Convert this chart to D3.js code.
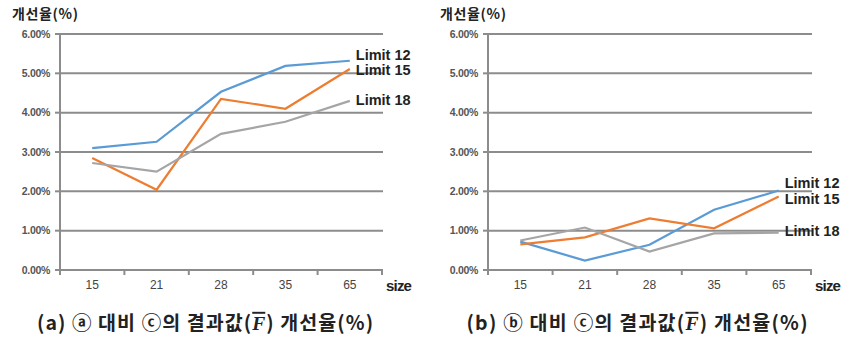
<!DOCTYPE html>
<html><head><meta charset="utf-8">
<script src="https://cdn.jsdelivr.net/npm/d3@7"></script>
<style>body{margin:0;background:#fff}svg{display:block}</style>
</head><body>
<svg id="c" width="843" height="338"></svg>
<script>
const categories = ["15","21","28","35","65"];
const yTicks = [0,1,2,3,4,5,6];
const seriesNames = ["Limit 12","Limit 15","Limit 18"];
const colors = ["#5B9BD5","#ED7D31","#A5A5A5"];
// panel (a)
const aLimit12 = [3.10,3.26,4.53,5.19,5.32];
const aLimit15 = [2.85,2.04,4.35,4.10,5.11];
const aLimit18 = [2.72,2.50,3.46,3.77,4.30];
// panel (b)
const bLimit12 = [0.72,0.24,0.64,1.53,2.02];
const bLimit15 = [0.65,0.83,1.31,1.06,1.87];
const bLimit18 = [0.75,1.08,0.47,0.93,0.95];
const captionA = ["(a) ⓐ 대비 ⓒ의 결과값(", "F", ") 개선율(%)"];
const captionB = ["(b) ⓑ 대비 ⓒ의 결과값(", "F", ") 개선율(%)"];
const yTitle = "개선율(%)";

const svg = d3.select("#c");
const KR = "'Noto Sans CJK KR','Noto Sans',sans-serif";

function panel(opt){
  const g = svg.append("g");
  const x = d3.scaleBand().domain(categories).range([opt.x0,opt.x1]);
  const y = d3.scaleLinear().domain([0,6]).range([270,34]);
  // grid
  g.selectAll("line.grid").data(yTicks.filter(d=>d>0)).join("line")
    .attr("x1",opt.x0).attr("x2",opt.gx1).attr("y1",d=>y(d)).attr("y2",d=>y(d))
    .attr("stroke","#8c8c8c").attr("stroke-width",2);
  // x axis
  const xa = g.append("g").attr("transform",`translate(0,${y(0)})`)
    .call(d3.axisBottom(x).tickSize(0).tickPadding(10));
  xa.select(".domain").remove();
  xa.selectAll("text").attr("font-family","'Liberation Sans',Arial,sans-serif").attr("font-size",12).attr("fill","#444");
  g.append("line").attr("x1",opt.x0).attr("x2",opt.gx1).attr("y1",y(0)).attr("y2",y(0)).attr("stroke","#8c8c8c").attr("stroke-width",2);
  const edges = categories.map(c=>x(c)).concat([opt.x1]);
  g.selectAll("line.xt").data(edges).join("line")
    .attr("x1",d=>d).attr("x2",d=>d).attr("y1",y(0)).attr("y2",y(0)+5)
    .attr("stroke","#8c8c8c").attr("stroke-width",2);
  // y axis
  g.append("line").attr("x1",opt.x0).attr("x2",opt.x0).attr("y1",y(6)).attr("y2",y(0)+1).attr("stroke","#8c8c8c").attr("stroke-width",2);
  g.selectAll("line.yt").data(yTicks).join("line")
    .attr("x1",opt.x0-5).attr("x2",opt.x0).attr("y1",d=>y(d)).attr("y2",d=>y(d))
    .attr("stroke","#8c8c8c").attr("stroke-width",2);
  g.selectAll("text.yl").data(yTicks).join("text")
    .attr("x",opt.x0-10).attr("y",d=>y(d)).attr("dy","0.35em").attr("text-anchor","end")
    .attr("font-family","'Liberation Sans',Arial,sans-serif").attr("font-size",10.5).attr("font-weight","bold")
    .attr("letter-spacing","-0.3").attr("fill","#555").text(d=>d.toFixed(2)+"%");
  // y title
  g.append("text").attr("x",opt.x0-48).attr("y",19).attr("font-family",KR).attr("font-size",14)
    .attr("font-weight","bold").attr("fill","#222").attr("textLength",opt.titleW).text(yTitle);
  // size label
  g.append("text").attr("x",opt.x1+4).attr("y",y(0)+21).attr("font-family","'Liberation Sans',Arial,sans-serif")
    .attr("font-size",15).attr("font-weight","bold").attr("letter-spacing","-0.8").attr("fill","#222").text("size");
  // lines
  const line = d3.line().x((d,i)=>x(categories[i])+x.bandwidth()/2).y(d=>y(d));
  opt.series.forEach((s,k)=>{
    g.append("path").datum(s).attr("d",line).attr("fill","none").attr("stroke",colors[k]).attr("stroke-width",2.2);
  });
  opt.series.forEach((s,k)=>{
    g.append("text").attr("x",x(categories[4])+x.bandwidth()/2+6).attr("y",opt.labelY[k]).attr("dy","0.35em")
      .attr("font-family","'Liberation Sans Narrow','Liberation Sans',Arial,sans-serif").attr("font-size",14.5)
      .attr("font-weight","bold").attr("fill","#222").text(seriesNames[k]);
  });
  // caption
  const t = g.append("text").attr("x",opt.capX).attr("y",323).attr("dy","0.35em").attr("text-anchor","middle")
    .attr("font-family",KR).attr("font-size",19.5).attr("font-weight","bold").attr("fill","#222")
    .attr("textLength",opt.capW).attr("lengthAdjust","spacing");
  t.append("tspan").text(opt.caption[0]);
  t.append("tspan").attr("font-style","italic").attr("font-family","'Liberation Serif',serif")
    .style("text-decoration","overline").text(opt.caption[1]);
  t.append("tspan").text(opt.caption[2]);
}

panel({x0:60,x1:382,gx1:383,series:[aLimit12,aLimit15,aLimit18],labelY:[55,70,100],caption:captionA,capX:205,capW:336,titleW:66});
panel({x0:488,x1:811,gx1:812,series:[bLimit12,bLimit15,bLimit18],labelY:[183,199,231],caption:captionB,capX:637,capW:341,titleW:66});
</script>
</body></html>
